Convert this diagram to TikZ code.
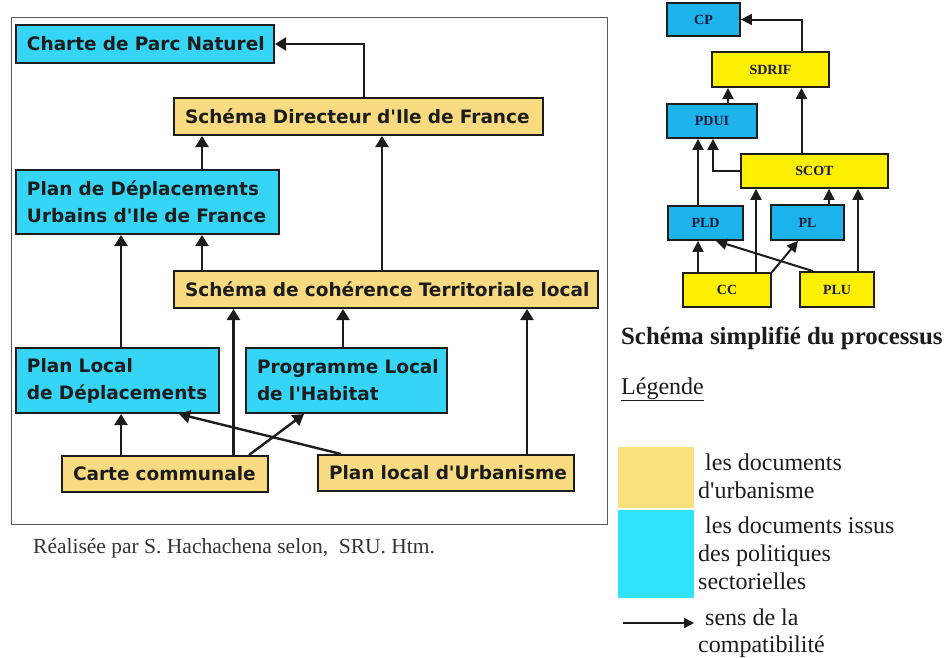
\documentclass[tikz,border=0pt]{standalone}
\usepackage{fontspec}
\setmainfont{Liberation Serif}
\newfontfamily\plainserif{Liberation Serif}
\newfontfamily\boxfont{DejaVu Sans}
\usetikzlibrary{arrows.meta}

\definecolor{lcyan}{HTML}{36D4F5}
\definecolor{lyellow}{HTML}{F8DB80}
\definecolor{rblue}{HTML}{1CB2EC}
\definecolor{ryellow}{HTML}{FCF000}
\definecolor{gcyan}{HTML}{30E2FA}
\definecolor{gyellow}{HTML}{FBE07E}
\definecolor{ink}{HTML}{1C1C1C}
\definecolor{navyink}{HTML}{1A1A3A}

\tikzset{
  lbox/.style={draw=ink, line width=2pt, inner xsep=11pt, inner ysep=0pt,
    font=\boxfont\bfseries\fontsize{18.5}{27}\selectfont, text=ink, align=left},
  rbox/.style={draw=ink, line width=1.8pt, inner sep=0pt,
    font=\bfseries\fontsize{14}{14}\selectfont, text=navyink},
  larr/.style={draw=ink, line width=2.4pt, -{Triangle[width=13pt,length=11pt]}},
  rarr/.style={draw=ink, line width=2pt, -{Triangle[width=11pt,length=11pt]}},
  garr/.style={draw=ink, line width=1.8pt, -{Triangle[width=10pt,length=10pt]}},
  legtext/.style={inner sep=0pt, text=ink, align=left,
    font=\plainserif\fontsize{24}{28}\selectfont},
}

\begin{document}
\begin{tikzpicture}[x=1pt, y=-1pt]
\useasboundingbox (0,0) rectangle (947,657);

% ---------- detailed diagram ----------
\node[draw=black!65, line width=1pt, minimum width=596pt, minimum height=507pt,
      inner sep=0pt] (frame) at (309,270.5) {};

\node[lbox, fill=lcyan,   text width=236pt, minimum height=38pt] (charte) at (145,44)
  {\mbox{Charte de Parc Naturel}};
\node[lbox, fill=lyellow, text width=347pt, minimum height=37pt] (sdif) at (358.5,116.5)
  {\mbox{Schéma Directeur d'Ile de France}};
\node[lbox, fill=lcyan,   text width=241pt, minimum height=64pt] (pdu) at (147.5,202)
  {\mbox{Plan de Déplacements}\\\mbox{Urbains d'Ile de France}};
\node[lbox, fill=lyellow, text width=402pt, minimum height=37pt] (scot) at (386,289.5)
  {\mbox{Schéma de cohérence Territoriale local}};
\node[lbox, fill=lcyan,   text width=181pt, minimum height=65pt] (pld) at (117.5,380.5)
  {\mbox{Plan Local}\\\mbox{de Déplacements}};
\node[lbox, fill=lcyan,   text width=179pt, minimum height=65pt] (plh) at (346.5,380.5)
  {\mbox{Programme Local}\\\mbox{de l'Habitat}};
\node[lbox, fill=lyellow, text width=184pt, minimum height=36pt] (cc) at (165,474)
  {\mbox{Carte communale}};
\node[lbox, fill=lyellow, text width=234pt, minimum height=36pt] (plu) at (446,473)
  {\mbox{Plan local d'Urbanisme}};

% connector columns
\coordinate (ca) at (121,0);
\coordinate (cb) at (202,0);
\coordinate (cc1) at (233.5,0);
\coordinate (cc2) at (249,0);
\coordinate (cd) at (304,0);
\coordinate (ce) at (343,0);
\coordinate (cf) at (364,0);
\coordinate (cg) at (382,0);
\coordinate (ch) at (527,0);
\coordinate (ci) at (341,0);
\coordinate (cj) at (179,0);

\draw[larr] (sdif.north -| cf) |- (charte.east);
\draw[larr] (pdu.north -| cb) -- (sdif.south -| cb);
\draw[larr] (scot.north -| cg) -- (sdif.south -| cg);
\draw[larr] (scot.north -| cb) -- (pdu.south -| cb);
\draw[larr] (pld.north -| ca) -- (pdu.south -| ca);
\draw[larr] (cc.north -| ca) -- (pld.south -| ca);
\draw[larr] (cc.north -| cc1) -- (scot.south -| cc1);
\draw[larr] (plh.north -| ce) -- (scot.south -| ce);
\draw[larr] (plu.north -| ch) -- (scot.south -| ch);
\draw[larr] (cc.north -| cc2) -- (plh.south -| cd);
\draw[larr] (plu.north -| ci) -- (pld.south -| cj);

\node[anchor=base west, inner sep=0pt, text=black!80,
      font=\plainserif\fontsize{21.5}{24}\selectfont]
  (credit) at (33,553) {Réalisée par S. Hachachena selon,~ SRU. Htm.};

% ---------- simplified diagram ----------
\node[rbox, fill=rblue,   minimum width=73pt,  minimum height=33pt] (cp)    at (703.5,19.5) {CP};
\node[rbox, fill=ryellow, minimum width=117pt, minimum height=35pt] (sdrif) at (770.5,69.5) {SDRIF};
\node[rbox, fill=rblue,   minimum width=90pt,  minimum height=34pt] (pdui)  at (712,121)    {PDUI};
\node[rbox, fill=ryellow, minimum width=147pt, minimum height=34pt] (scotr) at (814.5,171)  {SCOT};
\node[rbox, fill=rblue,   minimum width=75pt,  minimum height=34pt] (pldr)  at (705.5,223)  {PLD};
\node[rbox, fill=rblue,   minimum width=73pt,  minimum height=35pt] (plr)   at (807.5,222.5){PL};
\node[rbox, fill=ryellow, minimum width=88pt,  minimum height=34pt] (ccr)   at (727,290)    {CC};
\node[rbox, fill=ryellow, minimum width=74pt,  minimum height=35pt] (plur)  at (837,289.5)  {PLU};

\coordinate (ra) at (698,0);
\coordinate (rb) at (713,0);
\coordinate (rc) at (728,0);
\coordinate (rd) at (756,0);
\coordinate (re) at (801.5,0);
\coordinate (rf) at (829,0);
\coordinate (rg) at (858,0);
\coordinate (rh) at (798,0);
\coordinate (ri) at (813,0);
\coordinate (rj) at (716,0);

\draw[rarr] (sdrif.north -| re) |- (cp.east);
\draw[rarr] (pdui.north -| rc) -- (sdrif.south -| rc);
\draw[rarr] (scotr.north -| re) -- (sdrif.south -| re);
\draw[rarr] (scotr.west) -| (pdui.south -| rb);
\draw[rarr] (pldr.north -| ra) -- (pdui.south -| ra);
\draw[rarr] (plr.north -| rf) -- (scotr.south -| rf);
\draw[rarr] (ccr.north -| ra) -- (pldr.south -| ra);
\draw[rarr] (ccr.north -| rd) -- (scotr.south -| rd);
\draw[rarr] (ccr.north east) -- (plr.south -| rh);
\draw[rarr] (plur.north -| ri) -- (pldr.south -| rj);
\draw[rarr] (plur.north -| rg) -- (scotr.south -| rg);

\node[anchor=base west, inner sep=0pt, text=ink,
      font=\plainserif\bfseries\fontsize{24.8}{28}\selectfont]
  (title) at (621,344) {Schéma simplifié du processus};

% ---------- legend ----------
\node[anchor=base west, inner sep=0pt, text=ink, font=\plainserif\fontsize{24}{28}\selectfont]
  (legtitle) at (621,394) {\underline{Légende}};

\fill[gyellow] (618,447) rectangle (694,508);
\fill[gcyan]   (618,510) rectangle (694,598);

\node[legtext, anchor=north west] (leg1) at (698,454)
  {\hspace*{7pt}les documents\\d'urbanisme};
\node[legtext, anchor=north west] (leg2) at (698,517)
  {\hspace*{7pt}les documents issus\\des politiques\\sectorielles};
\node[legtext, anchor=north west, font=\plainserif\fontsize{24}{26.5}\selectfont]
  (leg3) at (698,609) {\hspace*{7pt}sens de la\\compatibilité};

\coordinate (la) at (623,623);
\coordinate (lb) at (694,623);
\draw[garr] (la) -- (lb);

\end{tikzpicture}
\end{document}
